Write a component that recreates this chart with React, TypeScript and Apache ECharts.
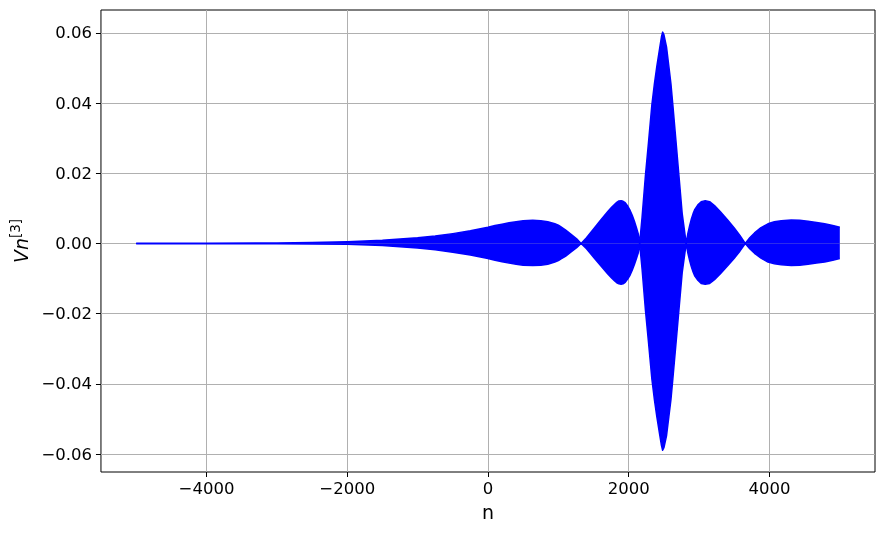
import React, { useEffect, useRef } from "react";
import * as echarts from "echarts";

// Envelope of the oscillating signal Vn^[3]
const nValues = [
  // tail and first lobe
  -5000, -4000, -3000, -2500, -2000, -1500, -1000, -750, -500, -250, 0, 100, 200, 300, 400, 500, 636, 750, 849,
  950, 1000, 1038, 1100, 1181, 1260,
  // second lobe
  1323, 1400, 1512, 1600, 1703, 1760, 1797, 1830, 1860, 1892, 1920, 1950, 1987, 2020, 2050, 2081, 2110, 2135,
  // main spindle
  2155, 2190, 2238, 2280, 2329, 2365, 2400, 2443, 2465, 2482, 2500, 2537, 2570, 2600, 2627, 2670, 2713, 2760,
  // fourth lobe
  2817, 2840, 2865, 2888, 2915, 2940, 2983, 3030, 3087, 3150, 3219, 3300, 3409, 3500, 3580,
  // last lobe
  3656, 3720, 3788, 3880, 3979, 4070, 4168, 4310, 4430, 4548, 4670, 4784, 4900, 5000,
];
const upperEnvelope = [
  0.00005, 0.00008, 0.00015, 0.0003, 0.0005, 0.0009, 0.0016, 0.0021, 0.0028, 0.0036, 0.0046, 0.0051, 0.0055,
  0.0059, 0.0062, 0.0065, 0.0066, 0.0065, 0.0062, 0.0056, 0.0052, 0.0047, 0.0039, 0.0026, 0.0013,
  0, 0.0016, 0.0044, 0.0066, 0.0091, 0.0104, 0.0111, 0.0117, 0.0121, 0.0122, 0.012, 0.0116, 0.0106, 0.0094,
  0.008, 0.0063, 0.0045, 0.0028,
  0, 0.0075, 0.0195, 0.0285, 0.0395, 0.0455, 0.0505, 0.056, 0.0588, 0.0602, 0.0595, 0.056, 0.0505, 0.0455,
  0.0395, 0.0295, 0.0195, 0.0085,
  0, 0.0028, 0.005, 0.0068, 0.0085, 0.0097, 0.011, 0.0119, 0.0122, 0.0119, 0.0108, 0.0091, 0.0066, 0.0044,
  0.0023,
  0, 0.0016, 0.003, 0.0045, 0.0056, 0.0062, 0.0065, 0.0067, 0.0066, 0.0063, 0.006, 0.0056, 0.0051, 0.0046,
];
const lowerEnvelope = [
  -0.00005, -0.00006, -0.0001, -0.00015, -0.0002, -0.0006, -0.0013, -0.0018, -0.0025, -0.0033, -0.0043,
  -0.0048, -0.0052, -0.0056, -0.0059, -0.0062, -0.0063, -0.0062, -0.0059, -0.0053, -0.0049, -0.0044, -0.0037,
  -0.0024, -0.0012,
  0, -0.0015, -0.0042, -0.0063, -0.0087, -0.0099, -0.0106, -0.0112, -0.0115, -0.0116, -0.0115, -0.0111,
  -0.0101, -0.009, -0.0076, -0.006, -0.0043, -0.0027,
  0, -0.0073, -0.0191, -0.0279, -0.0386, -0.0445, -0.0494, -0.0548, -0.0575, -0.0589, -0.0582, -0.0548,
  -0.0494, -0.0445, -0.0386, -0.0289, -0.0191, -0.0083,
  0, -0.0027, -0.0048, -0.0065, -0.0081, -0.0093, -0.0105, -0.0114, -0.0116, -0.0114, -0.0103, -0.0087,
  -0.0063, -0.0042, -0.0022,
  0, -0.0015, -0.0028, -0.0042, -0.0053, -0.0058, -0.0061, -0.0063, -0.0062, -0.0059, -0.0056, -0.0053,
  -0.0048, -0.0043,
];

const xTicks = [-4000, -2000, 0, 2000, 4000];
const yTicks = [-0.06, -0.04, -0.02, 0.0, 0.02, 0.04, 0.06];

const FONT = "DejaVu Sans";
const minus = (s: string) => s.replace("-", "\u2212");

export default function App() {
  const ref = useRef<HTMLDivElement>(null);
  useEffect(() => {
    if (!ref.current) return;
    const chart = echarts.init(ref.current, null, { renderer: "svg" });
    const upper = nValues.map((n, i) => [n, upperEnvelope[i]]);
    const lower = nValues.map((n, i) => [n, lowerEnvelope[i]]);
    const blue = "#0000ff";
    const lineSeries = (data: number[][]) => ({
      type: "line",
      data,
      showSymbol: false,
      symbol: "none",
      smooth: false,
      lineStyle: { color: blue, width: 1.5, join: "round" },
      areaStyle: { color: blue, opacity: 1 },
      itemStyle: { color: blue },
      silent: true,
    });
    chart.setOption({
      animation: false,
      grid: {
        left: 99,
        right: 9,
        top: 10,
        bottom: 62,
        show: true,
        borderColor: "#000",
        borderWidth: 1,
        backgroundColor: "transparent",
      },
      xAxis: {
        type: "value",
        min: -5500,
        max: 5500,
        name: "n",
        nameLocation: "middle",
        nameGap: 30,
        nameTextStyle: { fontFamily: FONT, fontSize: 19, color: "#000" },
        axisLine: { show: false, onZero: false },
        axisTick: { show: true, length: 5, lineStyle: { color: "#000", width: 1 }, customValues: xTicks },
        axisLabel: {
          customValues: xTicks,
          fontFamily: FONT,
          fontSize: 16.5,
          color: "#000",
          margin: 8,
          formatter: (v: number) => minus(String(v)),
        },
        splitLine: { show: true, lineStyle: { color: "#b0b0b0", width: 1 } },
      },
      yAxis: {
        type: "value",
        min: -0.0651,
        max: 0.0665,
        name: "{i|Vn}{s|[3]}",
        nameLocation: "middle",
        nameRotate: 90,
        nameGap: 66,
        nameTextStyle: {
          fontFamily: FONT,
          color: "#000",
          rich: {
            i: { fontFamily: FONT, fontSize: 19, fontStyle: "italic", color: "#000", lineHeight: 26 },
            s: { fontFamily: FONT, fontSize: 13.5, color: "#000", verticalAlign: "top", lineHeight: 26 },
          },
        },
        axisLine: { show: false, onZero: false },
        axisTick: { show: true, length: 5, lineStyle: { color: "#000", width: 1 }, customValues: yTicks },
        axisLabel: {
          customValues: yTicks,
          fontFamily: FONT,
          fontSize: 16.5,
          color: "#000",
          margin: 9,
          formatter: (v: number) => minus(v.toFixed(2)),
        },
        splitLine: { show: true, lineStyle: { color: "#b0b0b0", width: 1 } },
      },
      series: [lineSeries(upper), lineSeries(lower)],
    });
    return () => chart.dispose();
  }, []);
  return <div ref={ref} style={{ position: "fixed", left: 0, top: 0, width: 884, height: 534 }} />;
}
